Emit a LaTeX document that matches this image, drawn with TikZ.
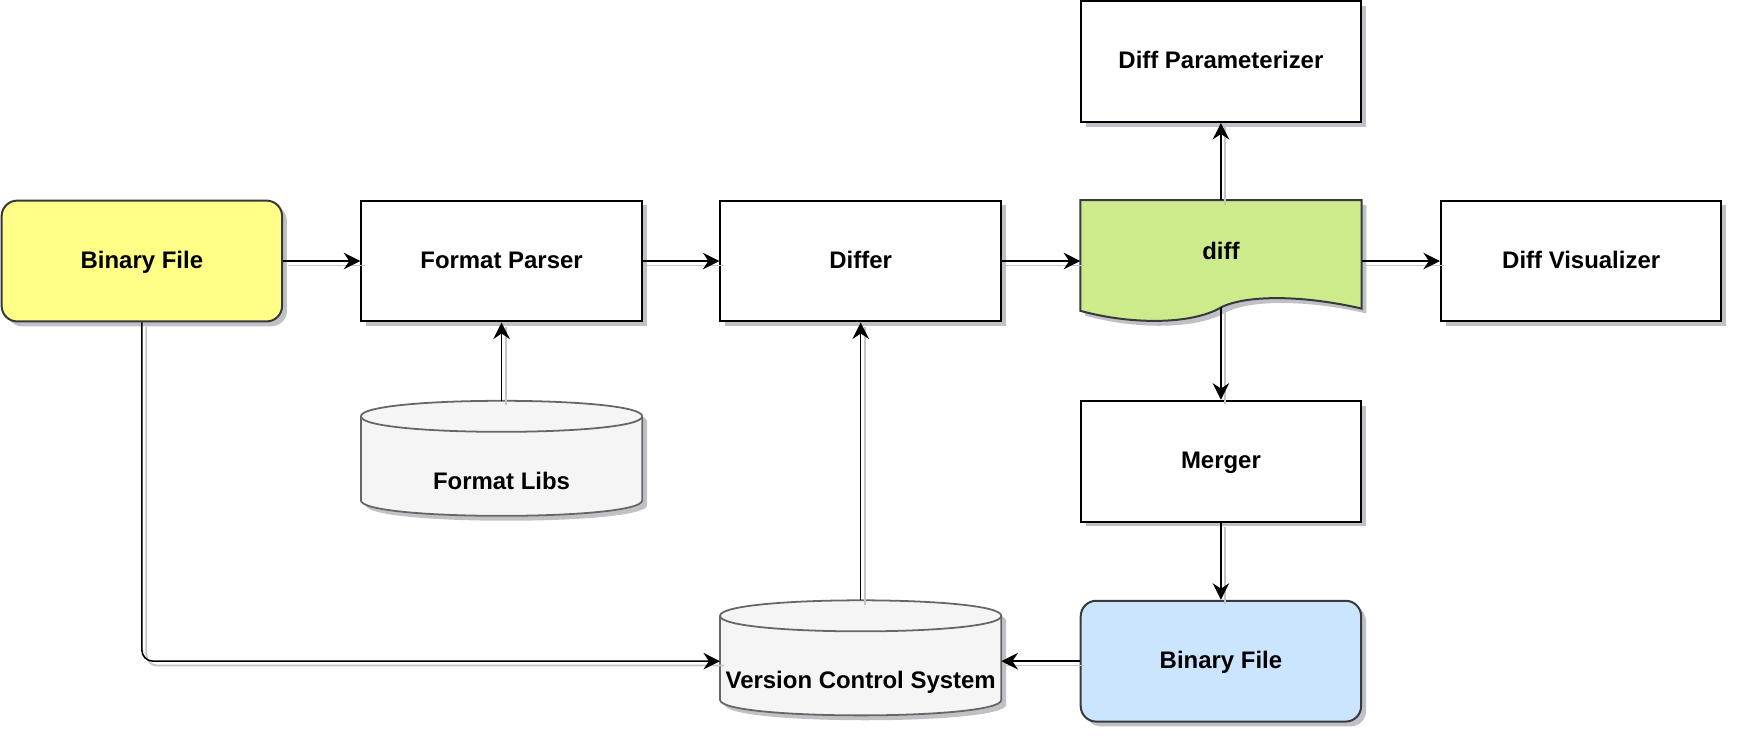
\documentclass[tikz,border=0pt]{standalone}
\usepackage{fontspec}
\setmainfont{Liberation Sans}
\usetikzlibrary{arrows.meta, shadows, backgrounds}

\definecolor{edgegray}{HTML}{36393D}
\definecolor{filey}{HTML}{FFFF88}
\definecolor{fileb}{HTML}{CCE5FF}
\definecolor{diffg}{HTML}{CDEB8B}
\definecolor{drumfill}{HTML}{F5F5F5}
\definecolor{drumline}{HTML}{666666}
\definecolor{shadowc}{HTML}{3A3A50}

\tikzset{
  shade/.style={drop shadow={shadow xshift=2.2pt, shadow yshift=-2.2pt, fill=shadowc, opacity=0.32}},
  txt/.style={font=\fontsize{10.8}{13}\selectfont\bfseries, text height=1.5ex, text depth=.25ex},
  box/.style={txt, rectangle, draw, line width=0.9pt, fill=white, minimum width=126.5pt, minimum height=54.5pt, shade},
  file/.style={box, rounded corners=7pt, draw=edgegray},
  spot/.style={txt, rectangle, inner xsep=0pt, minimum width=126.5pt, minimum height=54.5pt},
  drum/.style={draw=drumline, fill=drumfill, line width=0.8pt, shade},
  conn/.style={-{Stealth[length=7.5pt, width=7.5pt, inset=2.5pt]}, line width=0.7pt,
    preaction={draw=shadowc!30, -, line width=0.8pt, transform canvas={xshift=2pt, yshift=-2pt}}}
}

\begin{document}
\begin{tikzpicture}[x=0.5pt, y=-0.5pt]
\useasboundingbox (0,0) rectangle (1568,667.6);

\node[file, fill=filey] (bfileA) at (128,235.5) {Binary File};
\node[box] (parser) at (452.5,235.5) {Format Parser};
\node[box] (differ) at (776.5,235.5) {Differ};
\node[spot, text depth=9.5pt] (diff) at (1101.5,235.5) {diff};
\node[box] (visual) at (1426.5,235.5) {Diff Visualizer};
\node[box] (param) at (1101.5,55.5) {Diff Parameterizer};
\node[box] (merger) at (1101.5,416) {Merger};
\node[file, fill=fileb] (bfileB) at (1101.5,596.5) {Binary File};
\node[spot, minimum height=51.5pt, text height=28.3pt, text depth=0pt] (libs) at (452.5,413.5) {Format Libs};
\node[spot, minimum height=51.5pt, text height=27.3pt, text depth=0pt] (vcs) at (776.5,593.5) {Version Control System};

% shapes behind the texts
\begin{scope}[on background layer]
\filldraw[draw=edgegray, fill=diffg, line width=0.9pt, shade] (diff.north west) -- (diff.north east)
  -- ([yshift=6pt]diff.south east) .. controls (1175,266) and (1123.5,266) .. ([yshift=6.5pt]diff.south)
  .. controls (1075,293) and (1020,293) .. ([yshift=5pt]diff.south west) -- cycle;
\foreach \d in {libs, vcs} {
  \filldraw[drum] ([yshift=-7pt]\d.north west) -- ([yshift=7pt]\d.south west)
    .. controls +(0,18.67) and +(0,18.67) .. ([yshift=7pt]\d.south east)
    -- ([yshift=-7pt]\d.north east)
    .. controls +(0,-18.67) and +(0,-18.67) .. ([yshift=-7pt]\d.north west);
  \draw[draw=drumline, line width=0.8pt] ([yshift=-7pt]\d.north west)
    .. controls +(0,18.67) and +(0,18.67) .. ([yshift=-7pt]\d.north east);
}
\end{scope}

\draw[conn] (bfileA) -- (parser);
\draw[conn] (parser) -- (differ);
\draw[conn] (differ) -- (diff);
\draw[conn] (diff) -- (visual);
\draw[conn] (diff) -- (param);
\draw[conn] ([yshift=6.5pt]diff.south) -- (merger);
\draw[conn] (merger) -- (bfileB);
\draw[conn] (bfileB.west) -- (bfileB.west -| vcs.east);
\draw[conn, rounded corners=5pt] (bfileA) |- (bfileB -| vcs.west);
\draw[conn] (vcs) -- (differ);
\draw[conn] (libs) -- (parser);
\end{tikzpicture}
\end{document}
